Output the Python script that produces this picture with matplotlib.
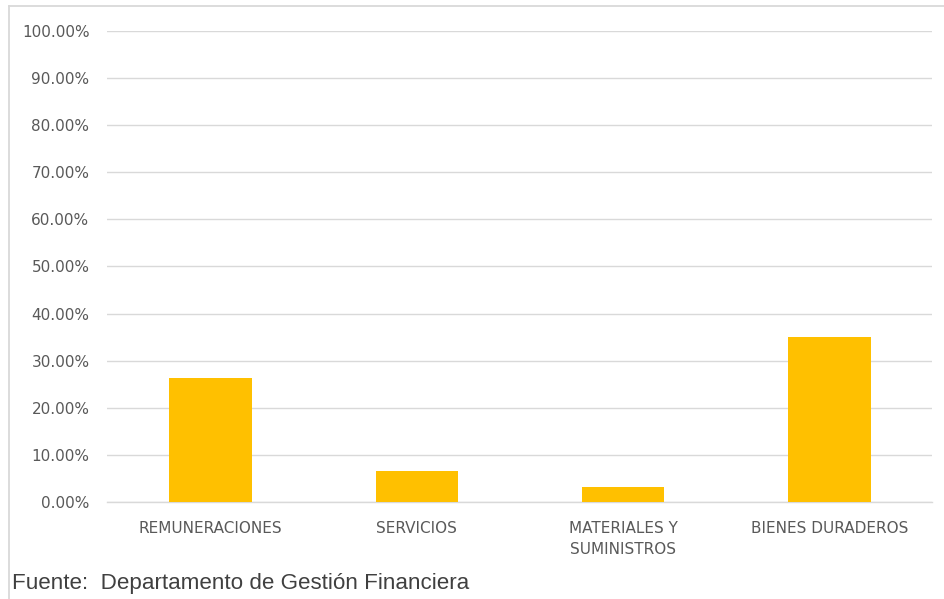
import matplotlib
matplotlib.use("Agg")
import matplotlib.pyplot as plt
from matplotlib.lines import Line2D
from matplotlib.ticker import FuncFormatter, MultipleLocator

categories = ["REMUNERACIONES", "SERVICIOS", "MATERIALES Y\nSUMINISTROS", "BIENES DURADEROS"]
values = [0.263, 0.066, 0.031, 0.350]
source_text = "Fuente:  Departamento de Gestión Financiera"

bar_color = "#FFC000"
grid_color = "#D9D9D9"
text_color = "#595959"

fig = plt.figure(figsize=(9.45, 5.99), dpi=100)
ax = fig.add_axes([107.5 / 945, 97 / 599, 825 / 945, 471 / 599])

x = range(len(categories))
ax.bar(x, values, width=0.40, color=bar_color, zorder=3)

ax.set_xlim(-0.5, len(categories) - 0.5)
ax.set_ylim(0, 1.0)
ax.yaxis.set_major_locator(MultipleLocator(0.1))
ax.yaxis.set_major_formatter(FuncFormatter(lambda v, p: f"{v*100:.2f}%"))
ax.grid(axis="y", color=grid_color, linewidth=1, zorder=0)
for s in ["top", "right", "left"]:
    ax.spines[s].set_visible(False)
ax.spines["bottom"].set_color(grid_color)
ax.spines["bottom"].set_linewidth(1)

ax.set_xticks(list(x))
ax.set_xticklabels(categories, fontsize=11, color=text_color, linespacing=1.5)
ax.tick_params(axis="x", length=0, pad=14)
ax.tick_params(axis="y", length=0, pad=13, labelsize=11, labelcolor=text_color)

# chart frame (top and left borders)
fig.add_artist(Line2D([9 / 945, 1.0], [1 - 6 / 599, 1 - 6 / 599], color=grid_color, lw=1.3,
                      transform=fig.transFigure))
fig.add_artist(Line2D([9 / 945, 9 / 945], [0, 1 - 6 / 599], color=grid_color, lw=1.3,
                      transform=fig.transFigure))

fig.text(12 / 945, 1 - 583 / 599, source_text, fontsize=16.1, color="#404040",
         family=["Liberation Sans", "DejaVu Sans"], va="center", ha="left")

fig.savefig("out.png", dpi=100)
